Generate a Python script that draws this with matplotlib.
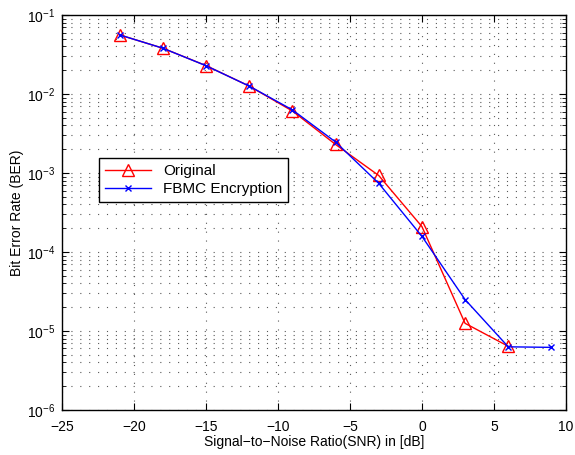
import numpy as np
import matplotlib.pyplot as plt
from matplotlib.ticker import LogLocator

plt.rcParams['font.family'] = ['Liberation Sans', 'DejaVu Sans']

# BER curves
snr_orig = [-21, -18, -15, -12, -9, -6, -3, 0, 3, 6]
ber_orig = [0.056, 0.038, 0.0229, 0.0126, 0.0061, 0.0023, 0.00093, 0.00021, 1.25e-5, 6.4e-6]

snr_fbmc = [-21, -18, -15, -12, -9, -6, -3, 0, 3, 6, 9]
ber_fbmc = [0.056, 0.038, 0.0228, 0.0126, 0.0063, 0.00247, 0.00074, 0.000158, 2.5e-5, 6.3e-6, 6.2e-6]

fig = plt.figure(figsize=(5.75, 4.55), dpi=100)
ax = fig.add_axes([0.108, 0.099, 0.876, 0.868])

ax.semilogy(snr_orig, ber_orig, color='red', lw=1, marker='^', ms=8,
            mfc='none', mec='red', mew=1, label='Original')
ax.semilogy(snr_fbmc, ber_fbmc, color='blue', lw=1, marker='x', ms=5,
            mew=1, label='FBMC Encryption')

ax.set_xlim(-25, 10)
ax.set_ylim(1e-6, 1e-1)
ax.set_xticks(np.arange(-25, 11, 5))
ax.yaxis.set_major_locator(LogLocator(base=10, numticks=10))
ax.yaxis.set_minor_locator(LogLocator(base=10, subs=np.arange(2, 10), numticks=20))

dots = (0, (1, 7))
ax.grid(True, which='major', ls=dots, color='0.35', lw=0.8)
ax.grid(True, which='minor', axis='y', ls=dots, color='0.35', lw=0.8)

ax.tick_params(which='both', direction='in', top=True, right=True, labelsize=10)
ax.tick_params(which='major', length=5)
ax.tick_params(which='minor', length=3)
ax.tick_params(axis='x', pad=7)
ax.tick_params(axis='y', pad=5)
for s in ax.spines.values():
    s.set_linewidth(1)

ax.set_xlabel('Signal\u2212to\u2212Noise Ratio(SNR) in [dB]', fontsize=10, labelpad=1)
ax.set_ylabel('Bit Error Rate (BER)', fontsize=10, labelpad=2)

leg = ax.legend(loc='upper left', bbox_to_anchor=(0.073, 0.638), fontsize=11,
                fancybox=False, framealpha=1, edgecolor='black', borderaxespad=0,
                handlelength=3, borderpad=0.4, labelspacing=0.25)
leg.get_frame().set_linewidth(1)

plt.savefig('out.png', dpi=100)
